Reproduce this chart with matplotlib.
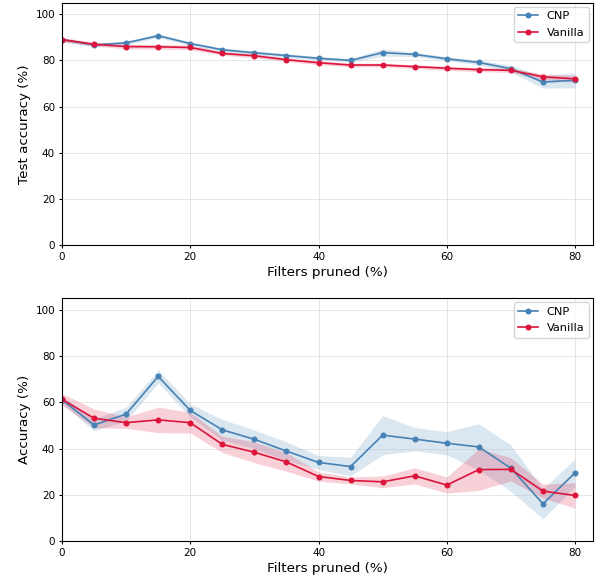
import matplotlib
matplotlib.use("Agg")
import matplotlib.pyplot as plt
import numpy as np

pruned = [0, 5, 10, 15, 20, 25, 30, 35, 40, 45, 50, 55, 60, 65, 70, 75, 80]

# Top panel: test accuracy
cnp_test = [89.0, 86.7, 87.6, 90.7, 87.3, 84.6, 83.3, 82.1, 80.9, 80.0, 83.4, 82.6, 80.7, 79.1, 76.4, 70.6, 71.4]
cnp_test_std = [0.8, 0.8, 0.8, 0.8, 0.8, 0.8, 0.8, 0.8, 0.8, 0.8, 1.6, 0.9, 0.9, 1.0, 1.5, 2.6, 3.3]
van_test = [89.0, 87.0, 86.0, 85.9, 85.6, 83.0, 82.0, 80.3, 79.0, 78.0, 78.0, 77.3, 76.6, 76.0, 75.7, 72.9, 72.0]
van_test_std = [1.0, 0.8, 1.0, 1.0, 1.0, 0.8, 0.8, 0.8, 0.8, 0.8, 0.8, 0.8, 0.9, 0.9, 0.9, 1.2, 1.5]

# Bottom panel: accuracy
cnp_acc = [61.1, 50.2, 54.9, 71.2, 56.5, 48.1, 44.0, 38.9, 34.0, 32.2, 45.8, 44.1, 42.3, 40.7, 31.5, 16.1, 29.5]
cnp_acc_std = [1.5, 2.5, 3.0, 2.8, 2.8, 4.5, 4.0, 4.0, 3.0, 4.0, 8.5, 5.0, 5.0, 10.0, 10.0, 6.5, 6.0]
van_acc = [61.3, 53.1, 51.2, 52.4, 51.2, 41.8, 38.4, 34.2, 27.9, 26.2, 25.6, 28.2, 24.2, 30.9, 31.0, 21.6, 19.7]
van_acc_std = [2.5, 4.0, 2.5, 5.5, 4.5, 3.5, 4.5, 4.0, 2.0, 1.5, 2.5, 3.5, 3.5, 9.0, 5.0, 3.0, 5.5]

blue = "#4682B4"
red = "#DC143C"

fig = plt.figure(figsize=(5.97, 5.79), dpi=100)
ax1 = fig.add_axes([0.1038, 0.5769, 0.8895, 0.4184])
ax2 = fig.add_axes([0.1038, 0.0656, 0.8895, 0.4192])

def panel(ax, c, cs, v, vs, ylabel):
    x = np.array(pruned)
    c, cs, v, vs = map(np.array, (c, cs, v, vs))
    ax.plot(x, c, color=blue, marker='o', markersize=3.3, linewidth=1.2, label='CNP')
    ax.fill_between(x, c - cs, c + cs, color=blue, alpha=0.2, linewidth=0)
    ax.plot(x, v, color=red, marker='o', markersize=3.3, linewidth=1.2, label='Vanilla')
    ax.fill_between(x, v - vs, v + vs, color=red, alpha=0.2, linewidth=0)
    ax.set_xlim(0, 82.8)
    ax.set_ylim(0, 105)
    ax.set_xticks([0, 20, 40, 60, 80])
    ax.set_yticks([0, 20, 40, 60, 80, 100])
    ax.grid(True, alpha=0.3, linewidth=0.7)
    ax.set_xlabel('Filters pruned (%)', fontsize=9.7, labelpad=3)
    ax.set_ylabel(ylabel, fontsize=9.7, labelpad=3)
    ax.tick_params(labelsize=7.5, length=2.5, pad=2.5)
    ax.legend(loc='upper right', fontsize=8.2, borderaxespad=0.35,
              handlelength=1.7, labelspacing=0.55)

panel(ax1, cnp_test, cnp_test_std, van_test, van_test_std, 'Test accuracy (%)')
panel(ax2, cnp_acc, cnp_acc_std, van_acc, van_acc_std, 'Accuracy (%)')

fig.savefig('out.png', dpi=100)
